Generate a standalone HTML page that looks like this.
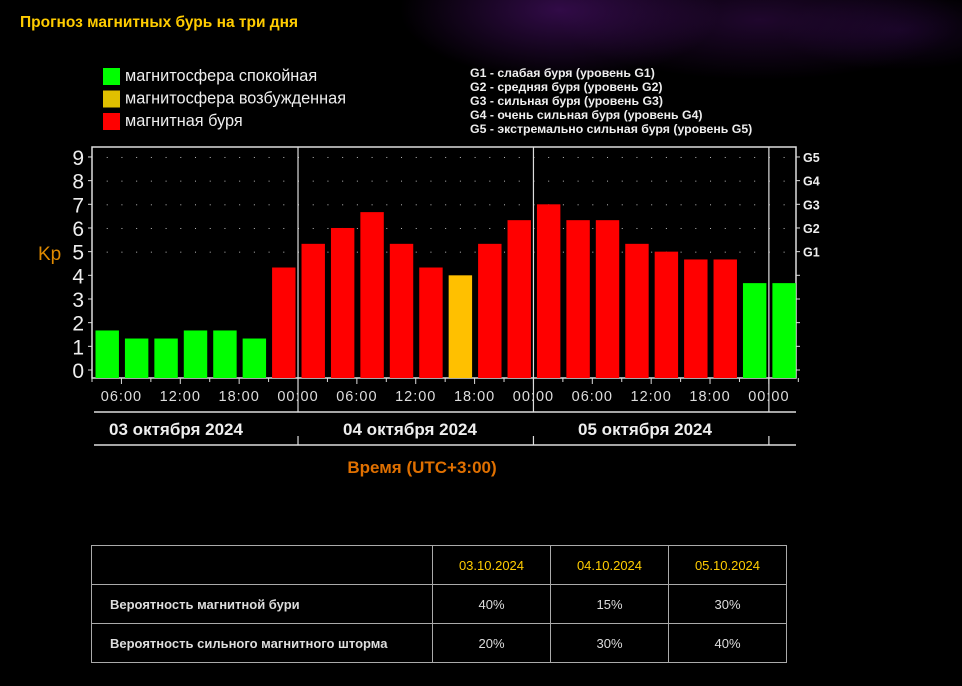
<!DOCTYPE html>
<html><head><meta charset="utf-8"><style>
html,body{margin:0;padding:0;background:#000;}
body{width:962px;height:686px;position:relative;overflow:hidden;font-family:"Liberation Sans",sans-serif;
background:radial-gradient(ellipse 160px 70px at 560px 10px,rgba(90,20,130,.55),transparent),radial-gradient(ellipse 200px 60px at 760px 20px,rgba(70,15,100,.45),transparent),radial-gradient(ellipse 120px 40px at 900px 30px,rgba(50,10,80,.4),transparent),#000;}
#title{position:absolute;left:20px;top:14px;color:#ffcc00;font-weight:bold;font-size:15.5px;}
table{position:absolute;left:91px;top:545px;border-collapse:collapse;font-size:13px;color:#ddd;}
td{border:1px solid #aaa;height:38px;text-align:center;padding:0;}
td.l{text-align:left;padding-left:18px;font-weight:bold;width:322px;}
td.d{color:#ffcc00;width:117px;}
</style></head><body>
<div id="title">Прогноз магнитных бурь на три дня</div>
<svg id="chart" width="962" height="500" style="position:absolute;left:0;top:0" font-family="Liberation Sans, sans-serif"></svg>
<table>
<tr><td class="l"></td><td class="d">03.10.2024</td><td class="d">04.10.2024</td><td class="d">05.10.2024</td></tr>
<tr><td class="l">Вероятность магнитной бури</td><td>40%</td><td>15%</td><td>30%</td></tr>
<tr><td class="l">Вероятность сильного магнитного шторма</td><td>20%</td><td>30%</td><td>40%</td></tr>
</table>
<script>
const kpValues=[1.67,1.33,1.33,1.67,1.67,1.33,4.33,5.33,6,6.67,5.33,4.33,4,5.33,6.33,7,6.33,6.33,5.33,5,4.67,4.67,3.67,3.67];
const kpStatus=["q","q","q","q","q","q","s","s","s","s","s","s","a","s","s","s","s","s","s","s","s","s","q","q"];
const timeLabels=["06:00","12:00","18:00","00:00","06:00","12:00","18:00","00:00","06:00","12:00","18:00","00:00"];
const dayLabels=["03 октября 2024","04 октября 2024","05 октября 2024"];
const yTicks=[0,1,2,3,4,5,6,7,8,9];
const gLabels=["G1","G2","G3","G4","G5"];
const legendItems=["магнитосфера спокойная","магнитосфера возбужденная","магнитная буря"];
const gLegend=["G1 - слабая буря (уровень G1)","G2 - средняя буря (уровень G2)","G3 - сильная буря (уровень G3)","G4 - очень сильная буря (уровень G4)","G5 - экстремально сильная буря (уровень G5)"];

const svg=document.getElementById('chart');
const NS='http://www.w3.org/2000/svg';
function mk(tag,attrs,txt){const e=document.createElementNS(NS,tag);for(const k in attrs)e.setAttribute(k,attrs[k]);if(txt!==undefined)e.textContent=txt;svg.appendChild(e);return e;}
const L=92,R=796,T=147,B=378,Y0=370,UNIT=23.67,SLOT=29.43;
const y=v=>Y0-v*UNIT;
const x=i=>L+i*SLOT;
const statusColor={q:'#00ff00',a:'#ffc000',s:'#ff0000'};
const legCols=['#00ff00','#e0c000','#ff0000'];
legendItems.forEach((t,i)=>{
 let r=mk('rect',{x:103,y:68+i*22.5,width:17,height:17,fill:legCols[i]});
 
 let e=mk('text',{x:125,y:81+i*22.5,fill:'#eee','font-size':16.3},t);
 
});
gLegend.forEach((t,i)=>{
 let e=mk('text',{x:470,y:77+i*14,fill:'#eee','font-size':12.3,'font-weight':'bold'},t);
 
});
let fr=mk('rect',{x:L,y:T,width:R-L,height:B-T,fill:'none',stroke:'#ddd','stroke-width':1.5});

for(let v=5;v<=9;v++){for(let i=1;i<48;i++){mk('rect',{x:L+i*SLOT/2,y:y(v),width:1,height:1,fill:'#bbb'});}}
kpValues.forEach((v,i)=>{
 let b=mk('rect',{x:x(i)+3.5,y:y(v),width:SLOT-6,height:B-y(v),fill:statusColor[kpStatus[i]]});
 
});
[7,15,23].forEach(i=>{mk('line',{x1:x(i),y1:T,x2:x(i),y2:412,stroke:'#ddd','stroke-width':1.2});mk('line',{x1:x(i),y1:436,x2:x(i),y2:445,stroke:'#ddd','stroke-width':1.2});});
yTicks.forEach(v=>{
 mk('line',{x1:L-4,y1:y(v),x2:L,y2:y(v),stroke:'#ddd'});
 mk('line',{x1:R,y1:y(v),x2:R+4,y2:y(v),stroke:'#ddd'});
 let t=mk('text',{x:84,y:y(v)+8,fill:'#eee','font-size':21,'text-anchor':'end'},String(v));
 
});
gLabels.forEach((g,i)=>{
 let t=mk('text',{x:803,y:y(5+i)+5,fill:'#eee','font-size':12.5,'font-weight':'bold'},g);
 
});
let kp=mk('text',{x:38,y:260,fill:'#e08a00','font-size':19},'Kp');

for(let i=0;i<=24;i++){mk('line',{x1:x(i),y1:B,x2:x(i),y2:B+(i%2?6:4),stroke:'#ddd'});}
timeLabels.forEach((t,k)=>{
 let e=mk('text',{x:x(1+2*k),y:401,fill:'#ddd','font-size':14.5,'text-anchor':'middle','letter-spacing':'1'},t);
 
});
mk('line',{x1:94,y1:412,x2:796,y2:412,stroke:'#ddd','stroke-width':1.5});
mk('line',{x1:94,y1:445,x2:796,y2:445,stroke:'#ddd','stroke-width':1.5});
const dayCenters=[176,410,645];
dayLabels.forEach((t,i)=>{
 let e=mk('text',{x:dayCenters[i],y:435,fill:'#eee','font-size':17,'font-weight':'bold','text-anchor':'middle'},t);
 
});
let xt=mk('text',{x:422,y:473,fill:'#e07000','font-size':17,'font-weight':'bold','text-anchor':'middle'},'Время (UTC+3:00)');

</script>
</body></html>
